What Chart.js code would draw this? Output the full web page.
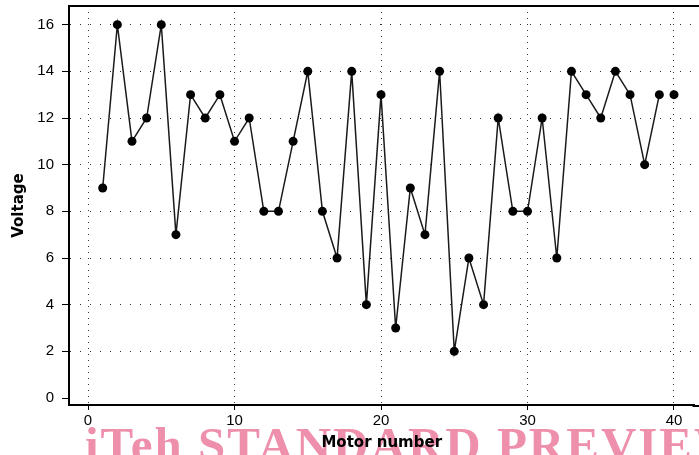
<!DOCTYPE html>
<html>
<head>
<meta charset="utf-8">
<script src="https://cdn.jsdelivr.net/npm/chart.js@4.4.1/dist/chart.umd.min.js"></script>
<style>
  html, body { margin: 0; padding: 0; background: #fff; }
  #wrap { width: 699px; height: 455px; }
</style>
</head>
<body>
<div id="wrap"><canvas id="chart" width="699" height="455"></canvas></div>
<script>
// data
const motorNumbers = [1, 2, 3, 4, 5, 6, 7, 8, 9, 10, 11, 12, 13, 14, 15, 16, 17, 18, 19, 20,
  21, 22, 23, 24, 25, 26, 27, 28, 29, 30, 31, 32, 33, 34, 35, 36, 37, 38, 39, 40];
const voltages = [9, 16, 11, 12, 16, 7, 13, 12, 13, 11, 12, 8, 8, 11, 14, 8, 6, 14, 4, 13,
  3, 9, 7, 14, 2, 6, 4, 12, 8, 8, 12, 6, 14, 13, 12, 14, 13, 10, 13, 13];
const xTicks = [0, 10, 20, 30, 40];
const yTicks = [0, 2, 4, 6, 8, 10, 12, 14, 16];

const points = motorNumbers.map((m, i) => ({ x: m, y: voltages[i] }));

// pink watermark behind the chart + frame lines running off the right edge
const framePlugin = {
  id: 'frame',
  beforeDraw(chart) {
    const ctx = chart.ctx;
    ctx.save();
    ctx.fillStyle = 'rgb(238,143,172)';
    ctx.font = 'bold 49px "Liberation Serif", "DejaVu Serif", serif';
    ctx.letterSpacing = '2px';
    ctx.textBaseline = 'alphabetic';
    ctx.fillText('iTeh STANDARD PREVIEW', 85, 461);
    ctx.restore();
  },
  afterDraw(chart) {
    const { ctx, chartArea } = chart;
    ctx.save();
    ctx.strokeStyle = '#000';
    ctx.lineWidth = 2;
    ctx.beginPath();
    ctx.moveTo(chartArea.left - 1, chartArea.top);
    ctx.lineTo(chart.width, chartArea.top);
    ctx.moveTo(chartArea.right - 2, chartArea.bottom + 1);
    ctx.lineTo(chart.width, chartArea.bottom + 1);
    ctx.stroke();
    ctx.restore();
  }
};

new Chart(document.getElementById('chart'), {
  type: 'line',
  data: {
    datasets: [{
      data: points,
      borderColor: '#1a1a1a',
      borderWidth: 1.5,
      pointRadius: 4.5,
      pointHoverRadius: 4.5,
      pointBackgroundColor: '#000',
      pointBorderColor: '#000',
      pointBorderWidth: 0,
      tension: 0,
      segment: {
        // the scan shows no line into the last point
        borderColor: c => c.p1DataIndex === motorNumbers.length - 1 ? 'rgba(0,0,0,0)' : '#1a1a1a'
      }
    }]
  },
  options: {
    responsive: false,
    animation: false,
    layout: { padding: { top: 6, right: 0, left: 0, bottom: 0 } },
    plugins: {
      legend: { display: false },
      tooltip: { enabled: false }
    },
    scales: {
      x: {
        type: 'linear',
        min: -1.3,
        max: 41.4,
        afterBuildTicks: s => { s.ticks = xTicks.map(v => ({ value: v })); },
        afterFit: s => { s.height = 50; s.paddingLeft = 0; s.paddingRight = 0; },
        grid: {
          color: '#333',
          lineWidth: 1,
          tickColor: '#000',
          tickLength: 5,
          tickBorderDash: []
        },
        border: { color: '#000', width: 2, dash: [1, 5] },
        ticks: {
          color: '#000',
          padding: 2,
          maxRotation: 0,
          font: { family: '"Liberation Sans", Arial, sans-serif', size: 15 }
        },
        title: {
          display: true,
          text: 'Motor number',
          color: '#000',
          padding: { top: 0, bottom: 3 },
          font: { family: '"DejaVu Sans", sans-serif', size: 15, weight: 'bold' }
        }
      },
      y: {
        min: -0.3,
        max: 16.8,
        afterBuildTicks: s => { s.ticks = yTicks.map(v => ({ value: v })); },
        afterFit: s => { s.width = 69; s.paddingTop = 0; s.paddingBottom = 0; },
        grid: {
          color: c => (c.tick && c.tick.value === 0) ? 'rgba(0,0,0,0)' : '#333',
          lineWidth: 1,
          tickColor: '#000',
          tickLength: 7,
          tickBorderDash: []
        },
        border: { color: '#000', width: 2, dash: [1, 9] },
        ticks: {
          color: '#000',
          padding: 8,
          font: { family: '"Liberation Sans Narrow", "Liberation Sans", sans-serif', size: 15 }
        },
        title: {
          display: true,
          text: 'Voltage',
          color: '#000',
          padding: { top: 10, bottom: 0 },
          font: { family: '"DejaVu Sans", sans-serif', size: 15, weight: 'bold' }
        }
      }
    }
  },
  plugins: [framePlugin]
});
</script>
</body>
</html>
